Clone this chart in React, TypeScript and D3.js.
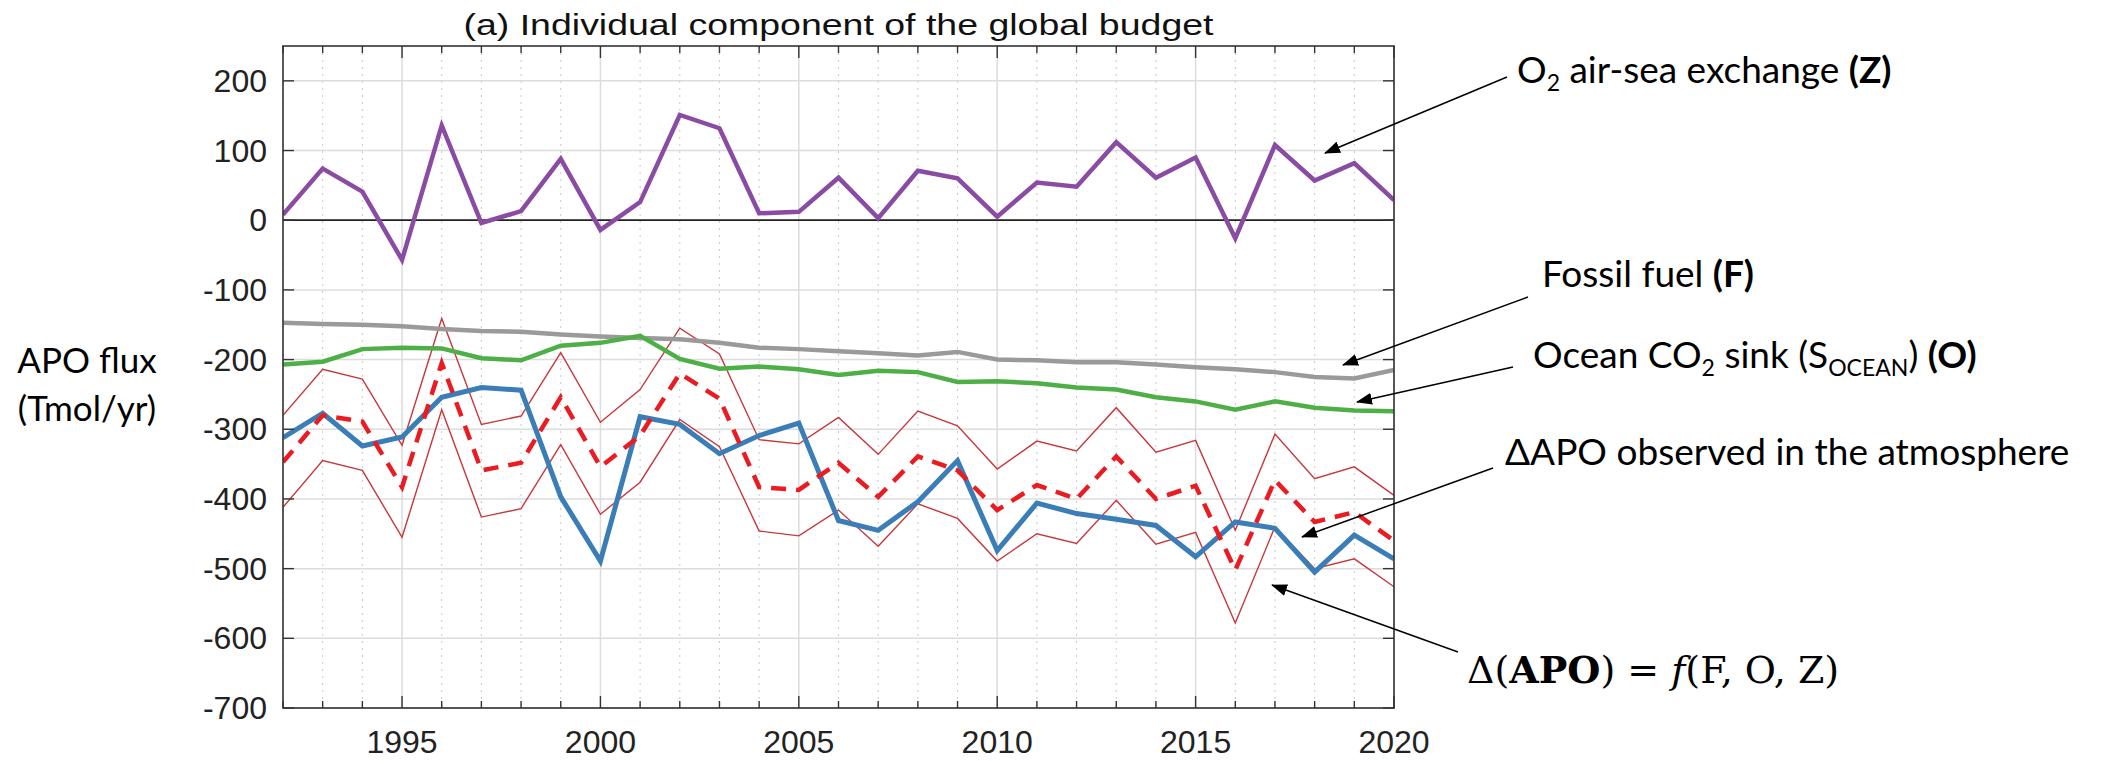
import React from "react";
import * as d3 from "d3";

// Annual APO budget components, 1992–2020 (Tmol/yr)
const years = d3.range(1992, 2021);

const airSeaO2 = [8, 74, 41, -57, 136, -4, 13, 88, -14, 26, 151, 132, 10, 12, 61, 3, 71, 60, 5, 54, 48, 112, 61, 90, -26, 108, 57, 82, 29];
const fossilFuel = [-147, -149, -150, -152, -156, -159, -160, -164, -167, -169, -171, -176, -183, -185, -188, -191, -194, -189, -200, -201, -204, -204, -207, -211, -214, -218, -225, -227, -215];
const oceanSink = [-207, -203, -185, -183, -184, -198, -201, -180, -176, -166, -199, -213, -210, -214, -222, -216, -218, -232, -231, -234, -240, -243, -254, -260, -272, -260, -269, -273, -274];
const observed = [-347, -280, -289, -383, -205, -359, -348, -254, -354, -309, -220, -256, -383, -387, -348, -397, -339, -359, -416, -380, -400, -339, -400, -381, -502, -373, -433, -419, -460];
const observedHigh = [-280, -214, -228, -323, -141, -293, -281, -190, -290, -243, -155, -192, -315, -321, -283, -336, -274, -295, -357, -317, -331, -269, -333, -316, -445, -307, -371, -354, -395];
const observedLow = [-412, -345, -359, -455, -272, -426, -414, -322, -422, -376, -286, -325, -446, -453, -416, -468, -407, -428, -489, -450, -464, -402, -465, -448, -578, -440, -500, -486, -526];
const budgetSum = [-312, -277, -324, -311, -254, -240, -244, -397, -489, -282, -293, -335, -309, -291, -431, -445, -404, -345, -474, -406, -421, -429, -438, -483, -433, -442, -505, -452, -486];

const yTicks = [200, 100, 0, -100, -200, -300, -400, -500, -600, -700];
const xLabelTicks = [1995, 2000, 2005, 2010, 2015, 2020];

const W = 2114;
const H = 761;
const plot = { left: 283, right: 1394, top: 46, bottom: 708 };

const x = d3.scaleLinear().domain([1992, 2020]).range([plot.left, plot.right]);
const y = d3.scaleLinear().domain([-700, 250]).range([plot.bottom, plot.top]);

const line = d3
  .line<number>()
  .x((_, i) => x(years[i]))
  .y((d) => y(d));

const tickFont = "'Liberation Sans', Arial, Helvetica, sans-serif";
const noteFont = "Lato, 'Open Sans', sans-serif";

function Arrow({ x1, y1, x2, y2 }: { x1: number; y1: number; x2: number; y2: number }) {
  return (
    <line x1={x1} y1={y1} x2={x2} y2={y2} stroke="#000" strokeWidth={1.5} markerEnd="url(#arrowHead)" />
  );
}

export default function App() {
  const minorYears = years.filter((yr) => yr % 5 !== 0);
  return (
    <div style={{ position: "absolute", left: 0, top: 0 }}>
      <svg width={W} height={H} viewBox={`0 0 ${W} ${H}`} style={{ display: "block", background: "#fff" }}>
        <defs>
          <marker id="arrowHead" viewBox="0 0 16 12" refX="15" refY="6" markerWidth="16" markerHeight="12" markerUnits="userSpaceOnUse" orient="auto">
            <path d="M0,0 L16,6 L0,12 Z" fill="#000" />
          </marker>
          <clipPath id="plotClip">
            <rect x={plot.left} y={plot.top} width={plot.right - plot.left} height={plot.bottom - plot.top} />
          </clipPath>
        </defs>

        {/* title */}
        <text
          x={(plot.left + plot.right) / 2}
          y={35}
          textAnchor="middle"
          fontFamily={tickFont}
          fontSize={29}
          fill="#111"
          textLength={750}
          lengthAdjust="spacingAndGlyphs"
        >
          (a) Individual component of the global budget
        </text>

        {/* grid */}
        <g>
          {minorYears.map((yr) => (
            <line key={`mg${yr}`} x1={x(yr)} x2={x(yr)} y1={plot.top} y2={plot.bottom} stroke="#c9c9c9" strokeWidth={1} strokeDasharray="2,5" />
          ))}
          {xLabelTicks.map((yr) => (
            <line key={`xg${yr}`} x1={x(yr)} x2={x(yr)} y1={plot.top} y2={plot.bottom} stroke="#dcdcdc" strokeWidth={1.5} />
          ))}
          {yTicks.map((v) => (
            <line key={`yg${v}`} x1={plot.left} x2={plot.right} y1={y(v)} y2={y(v)} stroke="#dcdcdc" strokeWidth={1.5} />
          ))}
        </g>

        {/* zero line */}
        <line x1={plot.left} x2={plot.right} y1={y(0)} y2={y(0)} stroke="#222" strokeWidth={1.8} />

        {/* series */}
        <g clipPath="url(#plotClip)" fill="none" strokeLinejoin="miter" strokeLinecap="butt">
          <path d={line(observedHigh) ?? ""} stroke="#c8373b" strokeWidth={1.4} />
          <path d={line(observedLow) ?? ""} stroke="#c8373b" strokeWidth={1.4} />
          <path d={line(fossilFuel) ?? ""} stroke="#9a9a9a" strokeWidth={4.5} />
          <path d={line(oceanSink) ?? ""} stroke="#4daf45" strokeWidth={4.5} />
          <path d={line(airSeaO2) ?? ""} stroke="#8a4ba3" strokeWidth={4.5} />
          <path d={line(budgetSum) ?? ""} stroke="#3b7db6" strokeWidth={5} />
          <path d={line(observed) ?? ""} stroke="#ea1c22" strokeWidth={4.5} strokeDasharray="15,10" />
        </g>

        {/* axes box */}
        <rect x={plot.left} y={plot.top} width={plot.right - plot.left} height={plot.bottom - plot.top} fill="none" stroke="#333" strokeWidth={1.6} />

        {/* x ticks, top and bottom, pointing inward */}
        {years.map((yr) => {
          const len = yr % 5 === 0 ? 12 : 7;
          return (
            <g key={`xt${yr}`} stroke="#333" strokeWidth={1.4}>
              <line x1={x(yr)} x2={x(yr)} y1={plot.bottom} y2={plot.bottom - len} />
              <line x1={x(yr)} x2={x(yr)} y1={plot.top} y2={plot.top + len} />
            </g>
          );
        })}
        {/* y ticks, left and right */}
        {yTicks.map((v) => (
          <g key={`yt${v}`} stroke="#333" strokeWidth={1.4}>
            <line x1={plot.left} x2={plot.left + 11} y1={y(v)} y2={y(v)} />
            <line x1={plot.right} x2={plot.right - 11} y1={y(v)} y2={y(v)} />
          </g>
        ))}

        {/* tick labels */}
        {yTicks.map((v) => (
          <text key={`yl${v}`} x={plot.left - 16} y={y(v) + 11} textAnchor="end" fontFamily={tickFont} fontSize={32} fill="#222">
            {v}
          </text>
        ))}
        {xLabelTicks.map((yr) => (
          <text key={`xl${yr}`} x={x(yr)} y={753} textAnchor="middle" fontFamily={tickFont} fontSize={32} fill="#222">
            {yr}
          </text>
        ))}

        {/* y-axis label */}
        <text x={87} y={373} textAnchor="middle" fontFamily={noteFont} fontSize={35} fill="#000">
          APO flux
        </text>
        <text x={87} y={421} textAnchor="middle" fontFamily={noteFont} fontSize={35} fill="#000">
          (Tmol/yr)
        </text>

        {/* annotations */}
        <g fontFamily={noteFont} fontSize={37} fill="#000">
          <text x={1517} y={83}>
            O<tspan fontSize={23} dy={8}>2</tspan>
            <tspan dy={-8}> air-sea exchange </tspan>
            <tspan fontWeight="bold">(Z)</tspan>
          </text>
          <text x={1542} y={287}>
            Fossil fuel <tspan fontWeight="bold">(F)</tspan>
          </text>
          <text x={1533} y={368}>
            Ocean CO<tspan fontSize={23} dy={8}>2</tspan>
            <tspan dy={-8}> sink (S</tspan>
            <tspan fontSize={23} dy={8}>OCEAN</tspan>
            <tspan dy={-8}>) </tspan>
            <tspan fontWeight="bold">(O)</tspan>
          </text>
          <text x={1505} y={465}>
            ΔAPO observed in the atmosphere
          </text>
        </g>
        <text x={1467} y={683} fontFamily="'DejaVu Serif', 'Liberation Serif', serif" fontSize={38} fill="#000">
          Δ(<tspan fontWeight="bold">APO</tspan>) = <tspan fontStyle="italic">f</tspan>(F, O, Z)
        </text>

        <Arrow x1={1507} y1={77} x2={1325} y2={153} />
        <Arrow x1={1528} y1={297} x2={1343} y2={365} />
        <Arrow x1={1513} y1={367} x2={1357} y2={402} />
        <Arrow x1={1493} y1={468} x2={1302} y2={537} />
        <Arrow x1={1458} y1={652} x2={1272} y2={585} />
      </svg>
    </div>
  );
}
